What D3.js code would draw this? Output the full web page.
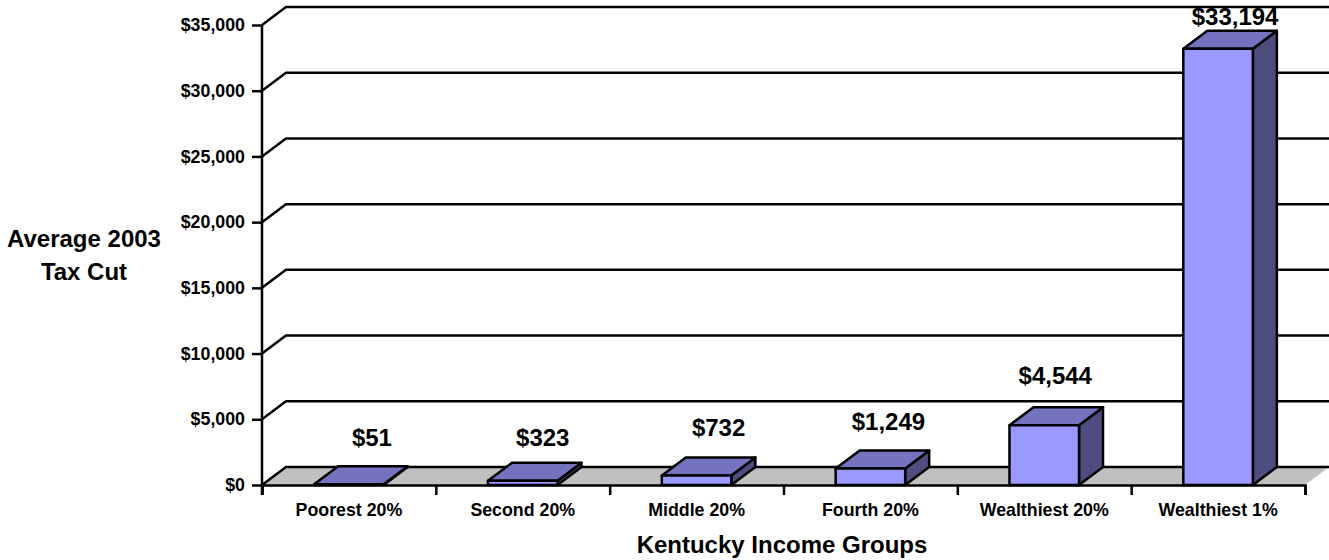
<!DOCTYPE html>
<html>
<head>
<meta charset="utf-8">
<script src="https://d3js.org/d3.v7.min.js"></script>
<style>
  html, body { margin: 0; padding: 0; background: #fff; }
  text { font-family: "Liberation Sans", Arial, sans-serif; font-weight: bold; fill: #000; }
</style>
</head>
<body>
<div id="chart_area"></div>
<script>
var categories = ["Poorest 20%", "Second 20%", "Middle 20%", "Fourth 20%", "Wealthiest 20%", "Wealthiest 1%"];
var values = [51, 323, 732, 1249, 4544, 33194];
var valueLabels = ["$51", "$323", "$732", "$1,249", "$4,544", "$33,194"];
var yTicks = [0, 5000, 10000, 15000, 20000, 25000, 30000, 35000];

// hand placed label offsets from the front centre / back top of each bar
var labelNudgeX = [23, 20, 22, 18, 11, 17];
var labelNudgeY = [20, 17, 21, 21, 23, 6];

var chartWidth = 1329, chartHeight = 560;
var margin = {left: 262, top: 25};
var width = 1043, height = 460;
var depthX = 24, depthY = 18;

var svg = d3.select("#chart_area")
    .append("svg")
        .attr("width", chartWidth)
        .attr("height", chartHeight)
        .style("display", "block");

var g = svg.append("g")
    .attr("transform", "translate(" + margin.left + "," + margin.top + ")");

//scales
var x = d3.scaleBand()
    .domain(categories)
    .range([0, width])
    .paddingInner(0.6)
    .paddingOuter(0.3);

var y = d3.scaleLinear()
    .domain([0, 35000])
    .range([height, 0]);

var tickPos = d3.scaleLinear()
    .domain([0, categories.length])
    .range([0, width]);

var lineW = 2.5;

//floor
g.append("polygon")
    .attr("points", [
        [0, height],
        [width, height],
        [width + depthX, height - depthY],
        [depthX, height - depthY]
    ].join(" "))
    .attr("fill", "#c0c0c0");

//wall grid lines
yTicks.forEach(function(t){
    g.append("path")
        .attr("d", "M0," + y(t) + "L" + depthX + "," + (y(t) - depthY) + "H" + (width + depthX))
        .attr("fill", "none")
        .attr("stroke", "#000")
        .attr("stroke-width", lineW);
});

//y axis
var yAxis = d3.axisLeft(y)
    .tickValues(yTicks)
    .tickSize(10)
    .tickPadding(7)
    .tickFormat(function(d){ return "$" + d3.format(",")(d); });
var yAxisG = g.append("g").call(yAxis);
yAxisG.select(".domain").remove();
yAxisG.selectAll("line").attr("stroke-width", lineW);
yAxisG.selectAll("text").attr("font-size", "17.8px");

g.append("line")
    .attr("x1", 0).attr("x2", 0)
    .attr("y1", 0).attr("y2", height + 10)
    .attr("stroke", "#000")
    .attr("stroke-width", lineW);

//x axis, ticks sit on the category boundaries
var xTickAxis = d3.axisBottom(tickPos)
    .tickValues(d3.range(categories.length + 1))
    .tickSize(10)
    .tickFormat("");
var xTickG = g.append("g")
    .attr("transform", "translate(0," + height + ")")
    .call(xTickAxis);
xTickG.select(".domain").attr("stroke-width", lineW);
xTickG.selectAll("line").attr("stroke-width", lineW);

var xAxis = d3.axisBottom(x).tickSize(0).tickPadding(18);
var xLabelG = g.append("g")
    .attr("transform", "translate(0," + height + ")")
    .call(xAxis);
xLabelG.select(".domain").remove();
xLabelG.selectAll("text").attr("font-size", "17.8px");

//bars
var bars = g.selectAll(".bar")
    .data(values)
    .enter().append("g")
        .attr("class", "bar");

function barLeft(i){ return x(categories[i]); }
function barRight(i){ return x(categories[i]) + x.bandwidth(); }

bars.append("polygon")
    .attr("points", function(d, i){
        return [
            [barRight(i), y(d)],
            [barRight(i) + depthX, y(d) - depthY],
            [barRight(i) + depthX, height - depthY],
            [barRight(i), height]
        ].join(" ");
    })
    .attr("fill", "#4d4d80");

bars.append("polygon")
    .attr("points", function(d, i){
        return [
            [barLeft(i), y(d)],
            [barLeft(i) + depthX, y(d) - depthY],
            [barRight(i) + depthX, y(d) - depthY],
            [barRight(i), y(d)]
        ].join(" ");
    })
    .attr("fill", "#7373bf");

bars.append("rect")
    .attr("x", function(d, i){ return barLeft(i); })
    .attr("y", function(d){ return y(d); })
    .attr("width", x.bandwidth())
    .attr("height", function(d){ return height - y(d); })
    .attr("fill", "#9999ff");

bars.selectAll("polygon, rect")
    .attr("stroke", "#000")
    .attr("stroke-width", lineW)
    .attr("stroke-linejoin", "round");

//value labels
bars.append("text")
    .attr("x", function(d, i){ return barLeft(i) + x.bandwidth() / 2 + labelNudgeX[i]; })
    .attr("y", function(d, i){ return y(d) - depthY - labelNudgeY[i]; })
    .attr("text-anchor", "middle")
    .attr("font-size", "24px")
    .text(function(d, i){ return valueLabels[i]; });

//x label
svg.append("text")
    .attr("x", 782)
    .attr("y", 553)
    .attr("text-anchor", "middle")
    .attr("font-size", "24px")
    .text("Kentucky Income Groups");

//y label
svg.append("text")
    .attr("x", 84)
    .attr("y", 247)
    .attr("text-anchor", "middle")
    .attr("font-size", "24px")
    .text("Average 2003");
svg.append("text")
    .attr("x", 84)
    .attr("y", 280)
    .attr("text-anchor", "middle")
    .attr("font-size", "24px")
    .text("Tax Cut");
</script>
</body>
</html>
